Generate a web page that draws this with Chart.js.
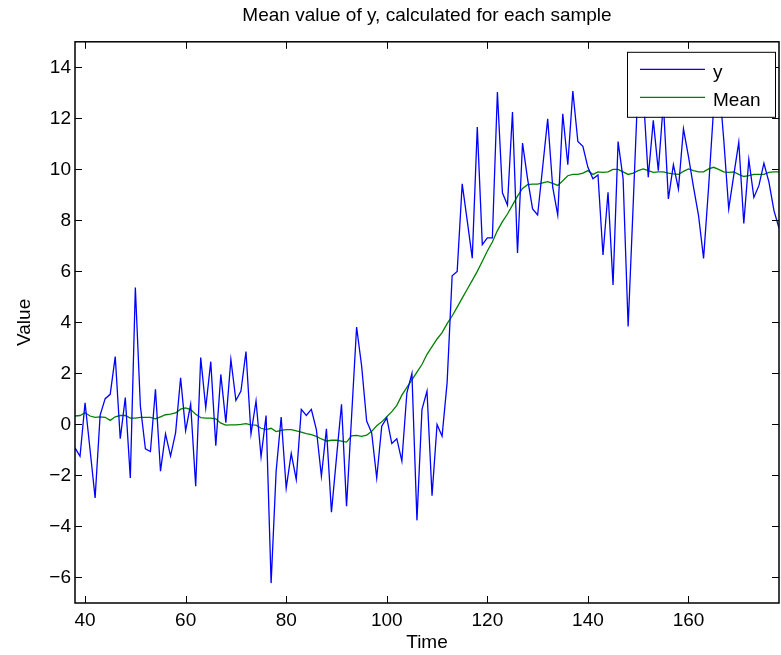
<!DOCTYPE html>
<html>
<head>
<meta charset="utf-8">
<style>
  html, body { margin: 0; padding: 0; background: #fff; }
  #wrap { width: 781px; height: 655px; }
</style>
<script src="https://cdn.jsdelivr.net/npm/chart.js@4.4.1/dist/chart.umd.min.js"></script>
</head>
<body>
<div id="wrap"><canvas id="myChart"></canvas></div>
<script>
  // samples (time axis)
  const time = [
    38, 39, 40, 41, 42, 43, 44, 45, 46, 47,
    48, 49, 50, 51, 52, 53, 54, 55, 56, 57,
    58, 59, 60, 61, 62, 63, 64, 65, 66, 67,
    68, 69, 70, 71, 72, 73, 74, 75, 76, 77,
    78, 79, 80, 81, 82, 83, 84, 85, 86, 87,
    88, 89, 90, 91, 92, 93, 94, 95, 96, 97,
    98, 99, 100, 101, 102, 103, 104, 105, 106, 107,
    108, 109, 110, 111, 112, 113, 114, 115, 116, 117,
    118, 119, 120, 121, 122, 123, 124, 125, 126, 127,
    128, 129, 130, 131, 132, 133, 134, 135, 136, 137,
    138, 139, 140, 141, 142, 143, 144, 145, 146, 147,
    148, 149, 150, 151, 152, 153, 154, 155, 156, 157,
    158, 159, 160, 161, 162, 163, 164, 165, 166, 167,
    168, 169, 170, 171, 172, 173, 174, 175, 176, 177,
    178, 179
  ];

  const yValues = [
    -0.92, -1.25, 0.85, -1.00, -2.88, 0.37, 1.01, 1.18, 2.66, -0.56,
    1.05, -2.10, 5.37, 0.72, -0.96, -1.06, 1.38, -1.83, -0.37, -1.24,
    -0.33, 1.83, -0.24, 0.79, -2.42, 2.62, 0.65, 2.46, -0.83, 1.96,
    0.07, 2.55, 0.94, 1.31, 2.86, -0.37, 0.92, -1.27, 0.35, -6.22,
    -1.83, 0.29, -2.50, -1.14, -2.16, 0.59, 0.35, 0.59, -0.20, -2.03,
    -0.17, -3.44, -1.30, 0.79, -3.21, 0.30, 3.82, 2.29, 0.13, -0.33,
    -2.10, -0.07, 0.26, -0.75, -0.56, -1.44, 1.24, 2.00, -3.76, 0.59,
    1.31, -2.79, 0.00, -0.46, 1.64, 5.83, 6.00, 9.43, 7.99, 6.52,
    11.66, 7.05, 7.31, 7.31, 13.03, 9.08, 8.60, 12.25, 6.72, 11.03,
    9.63, 8.45, 8.21, 10.08, 11.98, 9.30, 8.21, 12.18, 10.18, 13.07,
    11.09, 10.90, 10.08, 9.63, 9.78, 6.64, 9.10, 5.47, 11.09, 9.63,
    3.84, 8.60, 13.50, 13.00, 9.69, 11.92, 9.95, 12.60, 8.84, 10.18,
    9.23, 11.59, 10.50, 9.30, 8.19, 6.51, 9.30, 12.40, 13.60, 11.20,
    8.45, 9.76, 11.07, 7.88, 10.39, 8.90, 9.36, 10.24, 9.50, 8.38,
    7.70, 8.80
  ];

  const meanValues = [
    0.33, 0.35, 0.46, 0.33, 0.28, 0.30, 0.28, 0.16, 0.30, 0.35,
    0.35, 0.25, 0.25, 0.28, 0.28, 0.28, 0.22, 0.30, 0.38, 0.40,
    0.45, 0.60, 0.65, 0.58, 0.40, 0.27, 0.25, 0.25, 0.22, 0.05,
    -0.03, -0.02, -0.02, 0.00, 0.03, -0.02, -0.03, -0.15, -0.20, -0.15,
    -0.28, -0.23, -0.20, -0.20, -0.25, -0.30, -0.36, -0.40, -0.47, -0.57,
    -0.65, -0.62, -0.62, -0.65, -0.69, -0.45, -0.43, -0.47, -0.42, -0.27,
    -0.05, 0.10, 0.30, 0.50, 0.75, 1.15, 1.45, 1.75, 2.05, 2.35,
    2.75, 3.05, 3.35, 3.60, 3.95, 4.25, 4.60, 4.95, 5.30, 5.65,
    6.00, 6.40, 6.80, 7.15, 7.60, 7.95, 8.25, 8.60, 8.95, 9.25,
    9.40, 9.42, 9.42, 9.47, 9.52, 9.45, 9.37, 9.55, 9.75, 9.80,
    9.80, 9.85, 9.95, 9.80, 9.90, 9.88, 9.90, 10.00, 10.00, 9.90,
    9.80, 9.85, 9.95, 10.02, 9.95, 9.88, 9.90, 9.90, 9.85, 9.82,
    9.80, 9.92, 10.02, 9.95, 9.90, 9.90, 10.02, 10.08, 10.00, 9.90,
    9.88, 9.90, 9.80, 9.72, 9.75, 9.80, 9.80, 9.80, 9.88, 9.90,
    9.90, 9.92
  ];

  const xTicks = [40, 60, 80, 100, 120, 140, 160];
  const yTicks = [-6, -4, -2, 0, 2, 4, 6, 8, 10, 12, 14];

  const FONT = 'Liberation Sans, Arial, Helvetica, sans-serif';

  // box, inward ticks and the legend like matlab
  const matlabFrame = {
    id: 'matlabFrame',
    afterDraw(chart) {
      const { ctx, chartArea: a, scales: { x, y } } = chart;
      ctx.save();
      ctx.strokeStyle = '#000';
      ctx.lineWidth = 1;
      ctx.beginPath();
      xTicks.forEach(v => {
        const px = Math.round(x.getPixelForValue(v)) + 0.5;
        ctx.moveTo(px, a.bottom); ctx.lineTo(px, a.bottom - 7);
        ctx.moveTo(px, a.top); ctx.lineTo(px, a.top + 7);
      });
      yTicks.forEach(v => {
        const py = Math.round(y.getPixelForValue(v)) + 0.5;
        ctx.moveTo(a.left, py); ctx.lineTo(a.left + 7, py);
        ctx.moveTo(a.right, py); ctx.lineTo(a.right - 7, py);
      });
      ctx.stroke();

      ctx.lineWidth = 1.5;
      ctx.strokeRect(a.left, a.top, a.right - a.left, a.bottom - a.top);

      // legend
      const bx = a.right - 152, by = a.top + 10, bw = 148, bh = 65;
      ctx.fillStyle = '#fff';
      ctx.fillRect(bx, by, bw, bh);
      ctx.lineWidth = 1;
      ctx.strokeRect(bx + 0.5, by + 0.5, bw, bh);
      ctx.font = '19px ' + FONT;
      ctx.textBaseline = 'middle';
      ctx.textAlign = 'left';
      chart.data.datasets.forEach((ds, i) => {
        const ry = by + 17 + i * 28 + 0.5;
        ctx.strokeStyle = ds.borderColor;
        ctx.lineWidth = ds.borderWidth;
        ctx.beginPath();
        ctx.moveTo(bx + 13, ry);
        ctx.lineTo(bx + 78, ry);
        ctx.stroke();
        ctx.fillStyle = '#000';
        ctx.fillText(ds.label, bx + 86, ry + 3);
      });
      ctx.restore();
    }
  };

  const ctx = document.getElementById('myChart');

  new Chart(ctx, {
    type: 'line',
    data: {
      datasets: [{
        label: 'y',
        data: time.map((t, i) => ({ x: t, y: yValues[i] })),
        borderWidth: 1.3,
        borderColor: '#0000ff',
        backgroundColor: '#0000ff',
        pointRadius: 0,
        tension: 0,
      }, {
        label: 'Mean',
        data: time.map((t, i) => ({ x: t, y: meanValues[i] })),
        borderWidth: 1.3,
        borderColor: '#008000',
        backgroundColor: '#008000',
        pointRadius: 0,
        tension: 0,
      }],
    },
    options: {
      responsive: true,
      maintainAspectRatio: false,
      animation: false,
      layout: { padding: { left: 0, right: 2, top: 0, bottom: 0 } },
      plugins: {
        legend: { display: false },
        tooltip: { enabled: false },
        title: {
          display: true,
          fullSize: false,
          text: 'Mean value of y, calculated for each sample',
          color: '#000',
          font: { family: FONT, size: 19, weight: 'normal' },
          padding: { top: 4, bottom: 15 },
        },
      },
      scales: {
        x: {
          type: 'linear',
          min: 38,
          max: 178,
          grid: { display: false, drawTicks: false },
          border: { display: false },
          afterBuildTicks: (scale) => { scale.ticks = xTicks.map(v => ({ value: v })); },
          afterFit: (scale) => { scale.height = 52; },
          ticks: {
            color: '#000',
            padding: 6,
            maxRotation: 0,
            font: { family: FONT, size: 19 },
          },
          title: {
            display: true,
            text: 'Time',
            color: '#000',
            font: { family: FONT, size: 19 },
            padding: { top: 0, bottom: 1 },
          },
        },
        y: {
          min: -7,
          max: 15,
          grid: { display: false, drawTicks: false },
          border: { display: false },
          afterBuildTicks: (scale) => { scale.ticks = yTicks.map(v => ({ value: v })); },
          afterFit: (scale) => { scale.width = 75; },
          ticks: {
            color: '#000',
            padding: 4,
            font: { family: FONT, size: 19 },
            callback: (v) => String(v).replace('-', '\u2212'),
          },
          title: {
            display: true,
            text: 'Value',
            color: '#000',
            font: { family: FONT, size: 19 },
            padding: { top: 13, bottom: 0 },
          },
        },
      },
    },
    plugins: [matlabFrame],
  });
</script>
</body>
</html>
